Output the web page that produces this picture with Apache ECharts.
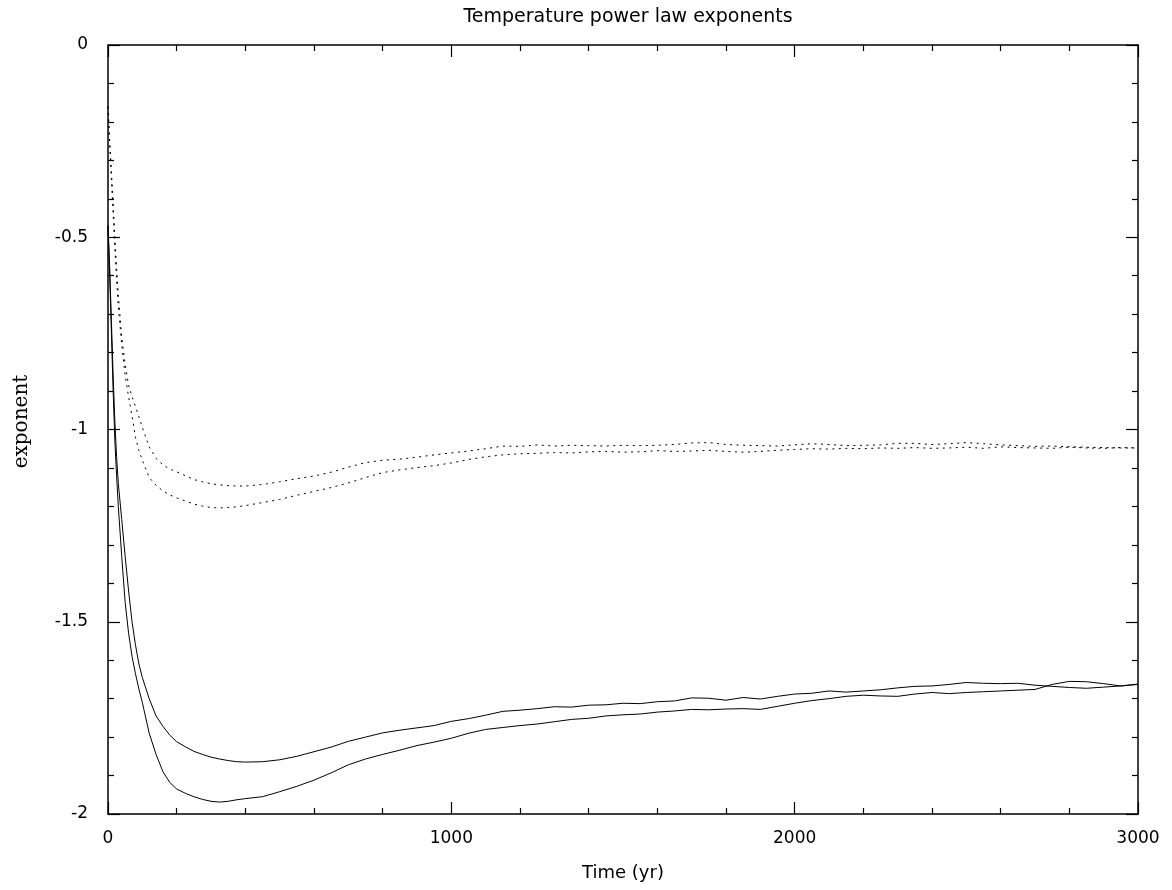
<!DOCTYPE html>
<html>
<head>
<meta charset="utf-8">
<script src="https://cdn.jsdelivr.net/npm/echarts@6/dist/echarts.min.js"></script>
<style>html,body{margin:0;padding:0;background:#fff;}#c{width:1172px;height:890px;}</style>
</head>
<body>
<div id="c"></div>
<script>
var titleText = 'Temperature power law exponents';
var xName = 'Time (yr)';
var yName = 'exponent';

var time = [0,5,10,15,20,25,30,40,50,60,70,80,90,100,120,140,160,180,200,225,250,275,300,325,350,375,400,
  450,500,550,600,650,700,750,800,850,900,950,1000,1050,1100,1150,1200,1250,1300,1350,1400,1450,1500,
  1550,1600,1650,1700,1750,1800,1850,1900,1950,2000,2050,2100,2150,2200,2250,2300,2350,2400,2450,2500,
  2550,2600,2650,2700,2750,2800,2850,2900,2950,3000];

// upper dotted
var dotted1 = [-0.16,-0.25,-0.33,-0.41,-0.50,-0.58,-0.65,-0.76,-0.83,-0.885,-0.915,-0.94,-0.967,-0.995,-1.045,-1.075,-1.092,-1.103,-1.110,-1.120,-1.130,-1.136,-1.141,-1.144,-1.146,-1.147,-1.147,
  -1.143,-1.136,-1.128,-1.121,-1.111,-1.098,-1.086,-1.080,-1.077,-1.072,-1.066,-1.061,-1.056,-1.050,-1.043,-1.044,-1.040,-1.043,-1.041,-1.042,-1.043,-1.041,
  -1.042,-1.041,-1.039,-1.035,-1.034,-1.039,-1.041,-1.042,-1.043,-1.040,-1.037,-1.039,-1.042,-1.041,-1.040,-1.036,-1.036,-1.039,-1.037,-1.034,
  -1.037,-1.040,-1.042,-1.044,-1.043,-1.045,-1.046,-1.047,-1.048,-1.048];

// lower dotted
var dotted2 = [-0.16,-0.26,-0.35,-0.44,-0.53,-0.61,-0.68,-0.78,-0.86,-0.915,-0.965,-1.02,-1.055,-1.08,-1.125,-1.145,-1.160,-1.170,-1.178,-1.186,-1.194,-1.199,-1.203,-1.204,-1.203,-1.201,-1.198,
  -1.190,-1.182,-1.171,-1.161,-1.151,-1.139,-1.125,-1.112,-1.105,-1.099,-1.094,-1.087,-1.078,-1.071,-1.066,-1.063,-1.062,-1.060,-1.061,-1.058,-1.057,-1.059,
  -1.058,-1.055,-1.057,-1.056,-1.054,-1.057,-1.059,-1.057,-1.054,-1.052,-1.050,-1.051,-1.049,-1.050,-1.048,-1.049,-1.047,-1.049,-1.048,-1.046,
  -1.049,-1.045,-1.047,-1.048,-1.049,-1.046,-1.048,-1.049,-1.047,-1.048];

// upper solid
var solid1 = [-0.47,-0.58,-0.72,-0.86,-0.98,-1.07,-1.14,-1.234,-1.33,-1.42,-1.50,-1.56,-1.61,-1.645,-1.70,-1.745,-1.772,-1.795,-1.812,-1.825,-1.837,-1.845,-1.852,-1.857,-1.861,-1.864,-1.865,
  -1.864,-1.859,-1.850,-1.838,-1.826,-1.811,-1.800,-1.789,-1.782,-1.776,-1.770,-1.759,-1.752,-1.743,-1.733,-1.730,-1.726,-1.721,-1.722,-1.717,-1.716,-1.712,
  -1.713,-1.708,-1.706,-1.698,-1.699,-1.704,-1.697,-1.701,-1.694,-1.688,-1.686,-1.680,-1.683,-1.680,-1.677,-1.672,-1.668,-1.667,-1.663,-1.658,
  -1.660,-1.661,-1.660,-1.665,-1.668,-1.671,-1.673,-1.670,-1.667,-1.663];

// lower solid
var solid2 = [-0.47,-0.60,-0.75,-0.90,-1.03,-1.12,-1.20,-1.33,-1.45,-1.53,-1.59,-1.635,-1.675,-1.71,-1.79,-1.845,-1.890,-1.918,-1.935,-1.946,-1.955,-1.962,-1.967,-1.969,-1.967,-1.963,-1.960,
  -1.955,-1.942,-1.928,-1.912,-1.893,-1.872,-1.857,-1.845,-1.834,-1.822,-1.813,-1.803,-1.790,-1.780,-1.775,-1.770,-1.766,-1.760,-1.754,-1.751,-1.745,-1.742,
  -1.740,-1.735,-1.732,-1.728,-1.729,-1.727,-1.726,-1.728,-1.720,-1.712,-1.705,-1.700,-1.694,-1.691,-1.693,-1.694,-1.688,-1.684,-1.687,-1.684,
  -1.682,-1.680,-1.678,-1.676,-1.663,-1.655,-1.656,-1.661,-1.667,-1.662];

function pairs(vals){ return time.map(function(t,i){ return [t, vals[i]]; }); }

var FONT = 'DejaVu Sans';
var axisLineStyle = {color:'#000', width:1.5};

var chart = echarts.init(document.getElementById('c'), null, {renderer:'canvas'});
var baseX = {
  type:'value', min:0, max:3000, interval:1000,
  axisLine:{show:true, onZero:false, lineStyle:axisLineStyle},
  axisTick:{show:true, inside:true, length:12, lineStyle:{color:'#000', width:1.2}},
  minorTick:{show:true, splitNumber:5, length:6, lineStyle:{color:'#000', width:1.2}},
  splitLine:{show:false}, minorSplitLine:{show:false}
};
var baseY = {
  type:'value', min:-2, max:0, interval:0.5,
  axisLine:{show:true, onZero:false, lineStyle:axisLineStyle},
  axisTick:{show:true, inside:true, length:12, lineStyle:{color:'#000', width:1.2}},
  minorTick:{show:true, splitNumber:5, length:6, lineStyle:{color:'#000', width:1.2}},
  splitLine:{show:false}, minorSplitLine:{show:false}
};
function ext(a,b){ return Object.assign({}, a, b); }

var lineSeries = function(vals, dotted){
  return {
    type:'line', data:pairs(vals), showSymbol:false, symbol:'none', smooth:false,
    xAxisIndex:0, yAxisIndex:0, animation:false,
    lineStyle:{color:'#000', width:1, type: dotted ? [2,4.5] : 'solid'}
  };
};

chart.setOption({
  animation:false,
  backgroundColor:'#fff',
  title:{text:titleText, left:623, top:3, textAlign:'center',
    textStyle:{fontFamily:FONT, fontSize:19, fontWeight:'normal', color:'#000'}},
  grid:{left:108, top:45, right:34, bottom:76, containLabel:false, outerBoundsMode:'none'},
  xAxis:[
    ext(baseX, {position:'bottom', name:xName, nameLocation:'middle', nameGap:50,
      nameTextStyle:{fontFamily:FONT, fontSize:18, color:'#000'},
      axisLabel:{show:true, margin:16, fontFamily:FONT, fontSize:17, color:'#000',
        formatter:function(v){ return String(v); }}}),
    ext(baseX, {position:'top', axisLabel:{show:false}})
  ],
  yAxis:[
    ext(baseY, {position:'left', name:yName, nameLocation:'middle', nameGap:76, nameRotate:90,
      nameTextStyle:{fontFamily:'DejaVu Serif', fontSize:20, color:'#000', padding:[0,0,0,16]},
      axisLabel:{show:true, margin:20, fontFamily:FONT, fontSize:17, color:'#000',
        formatter:function(v){ return String(v); }}}),
    ext(baseY, {position:'right', axisLabel:{show:false}})
  ],
  series:[
    lineSeries(dotted1, true),
    lineSeries(dotted2, true),
    lineSeries(solid1, false),
    lineSeries(solid2, false)
  ]
});
</script>
</body>
</html>
